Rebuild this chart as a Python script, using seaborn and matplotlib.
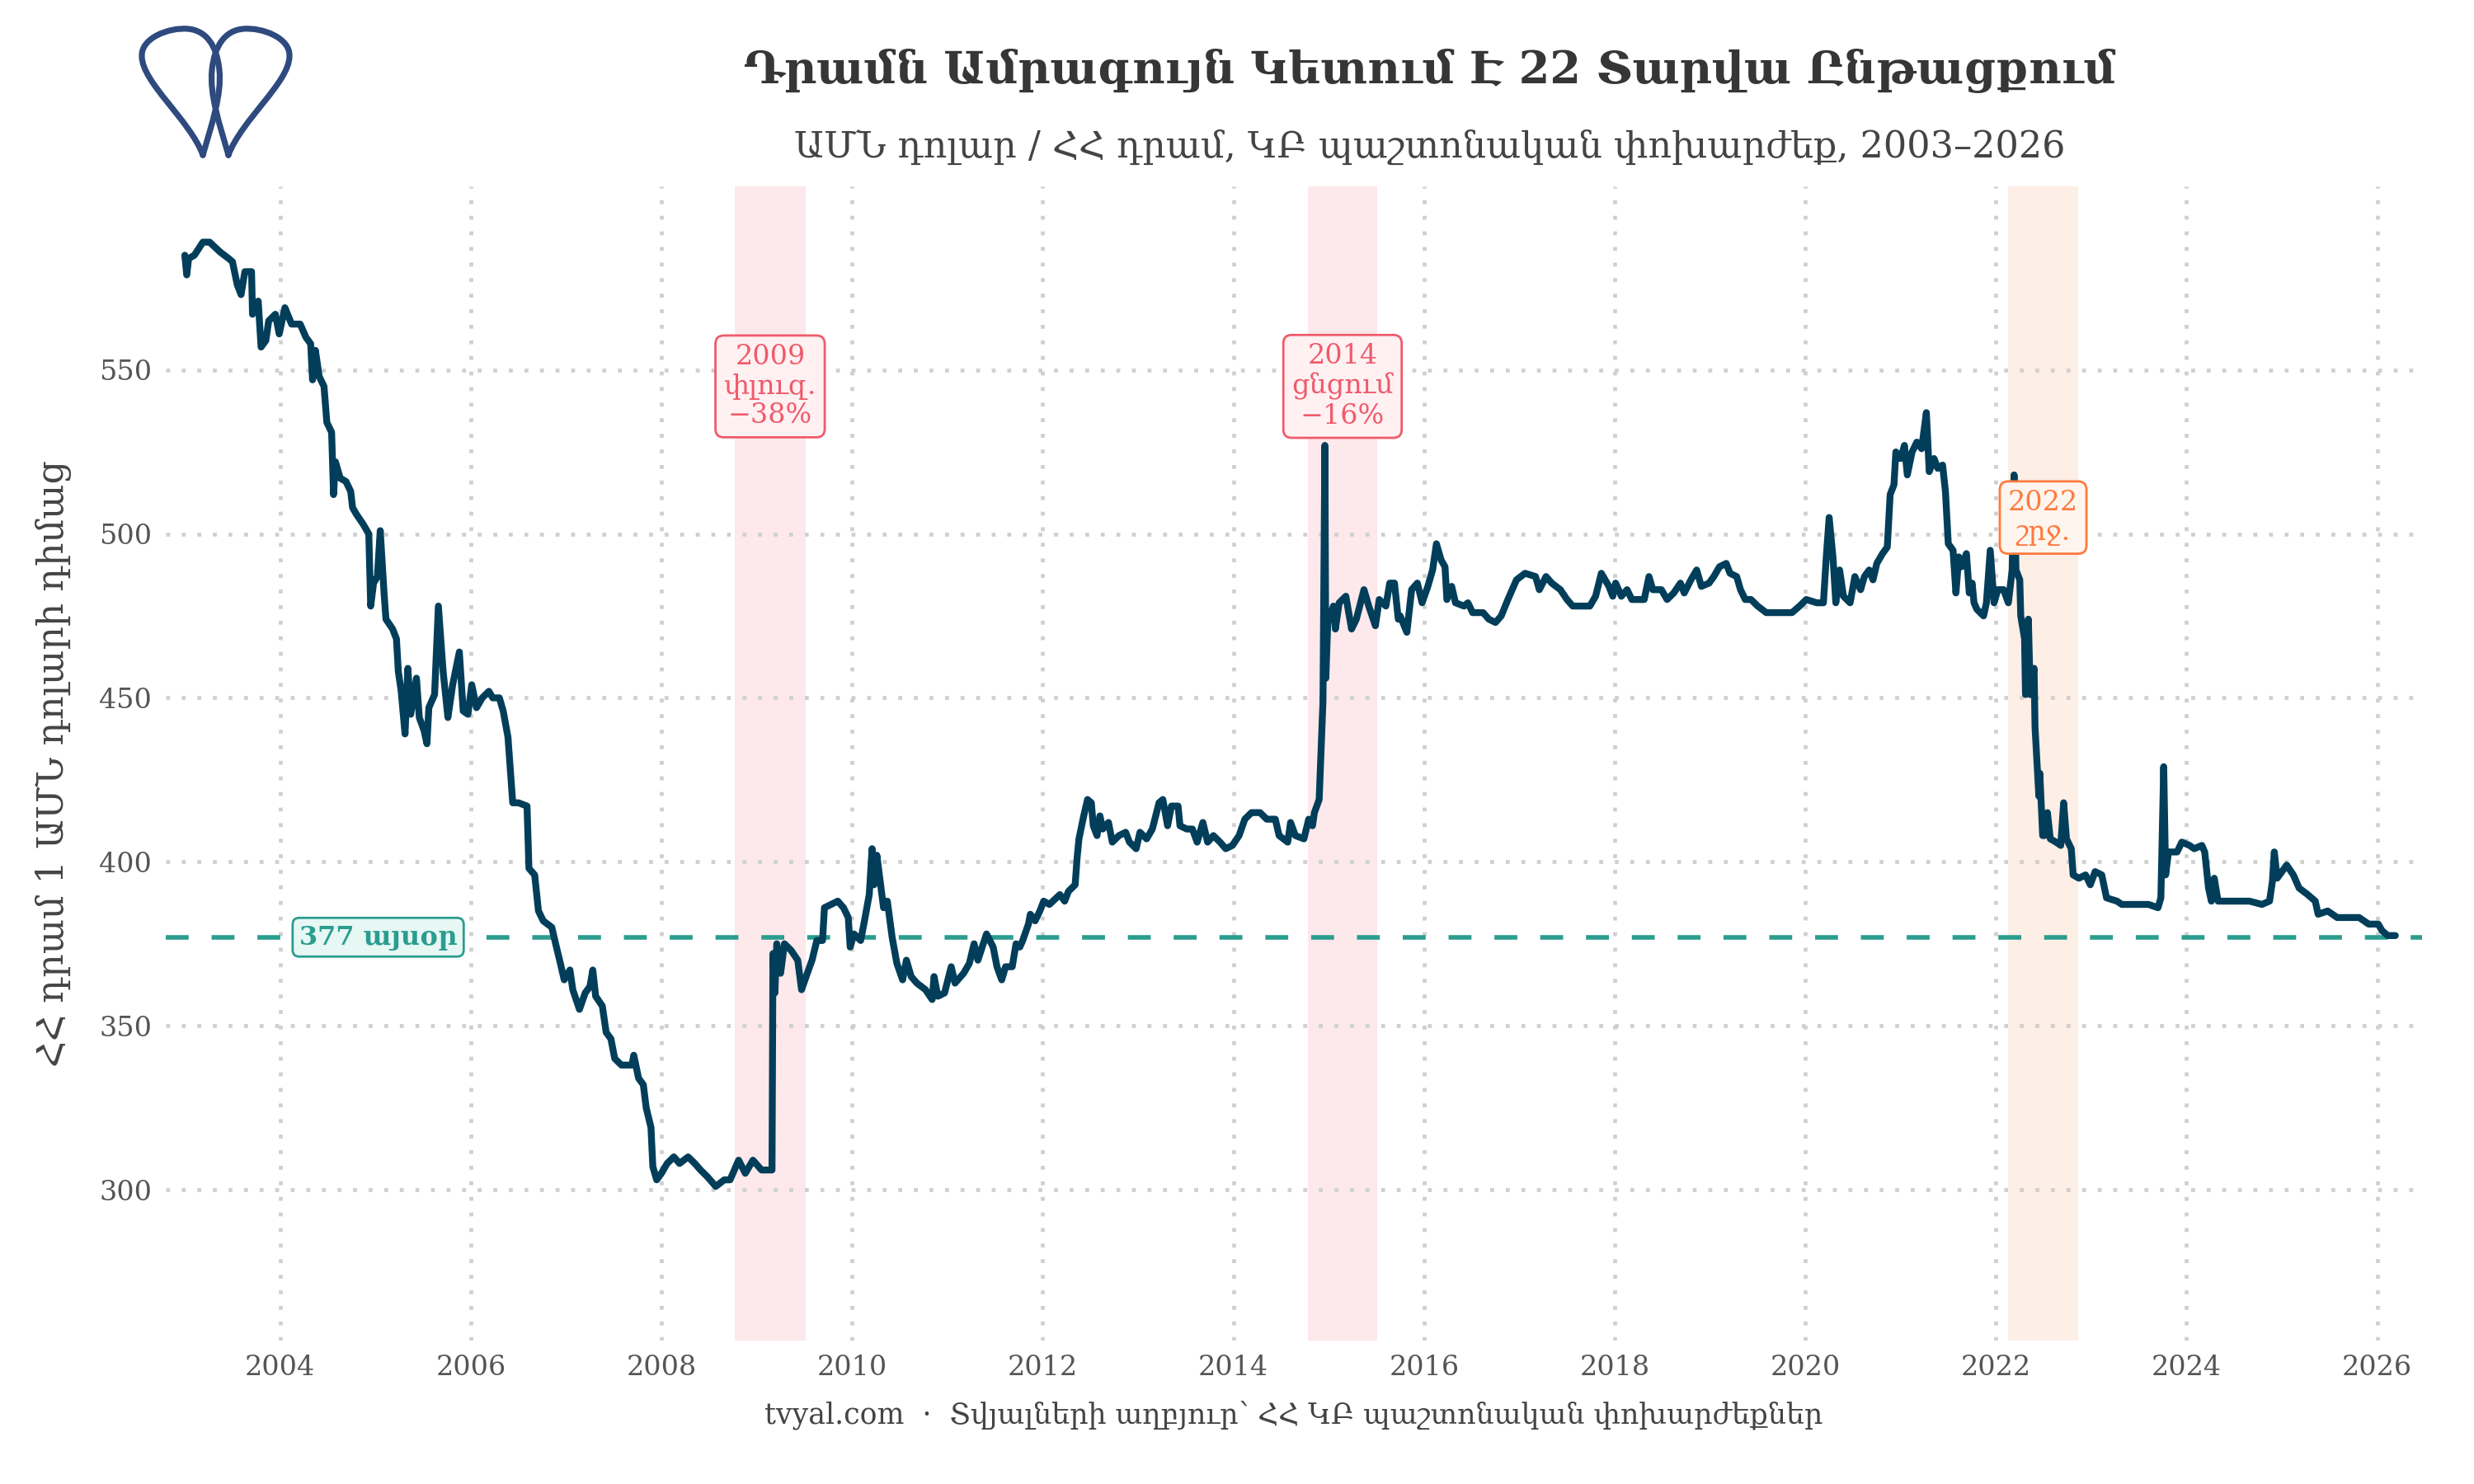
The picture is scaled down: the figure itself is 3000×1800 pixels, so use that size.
import numpy as np
import pandas as pd
import matplotlib
matplotlib.use("Agg")
import matplotlib.pyplot as plt
from matplotlib.path import Path
from matplotlib.patches import PathPatch
import seaborn as sns

# ---------------- data ----------------
years = [
    2003.00, 2003.02, 2003.04, 2003.10, 2003.19, 2003.26, 2003.37, 2003.46, 2003.50, 2003.55,
    2003.59, 2003.63, 2003.70, 2003.71, 2003.77, 2003.80, 2003.85, 2003.88, 2003.95, 2003.99,
    2004.05, 2004.12, 2004.21, 2004.27, 2004.32, 2004.34, 2004.37, 2004.41, 2004.46, 2004.49,
    2004.54, 2004.56, 2004.58, 2004.63, 2004.69, 2004.74, 2004.76, 2004.80, 2004.87, 2004.93,
    2004.95, 2004.98, 2005.02, 2005.05, 2005.09, 2005.11, 2005.18, 2005.22, 2005.24, 2005.27,
    2005.31, 2005.34, 2005.37, 2005.43, 2005.46, 2005.51, 2005.54, 2005.56, 2005.62, 2005.66,
    2005.71, 2005.76, 2005.81, 2005.88, 2005.92, 2005.97, 2006.01, 2006.06, 2006.12, 2006.19,
    2006.23, 2006.30, 2006.34, 2006.39, 2006.42, 2006.44, 2006.50, 2006.59, 2006.61, 2006.67,
    2006.71, 2006.76, 2006.85, 2006.89, 2006.94, 2006.98, 2007.04, 2007.07, 2007.14, 2007.20,
    2007.25, 2007.28, 2007.31, 2007.38, 2007.42, 2007.47, 2007.51, 2007.58, 2007.69, 2007.71,
    2007.76, 2007.81, 2007.84, 2007.89, 2007.91, 2007.95, 2008.00, 2008.06, 2008.13, 2008.19,
    2008.28, 2008.35, 2008.41, 2008.48, 2008.57, 2008.66, 2008.72, 2008.81, 2008.88, 2008.96,
    2009.05, 2009.16, 2009.17, 2009.19, 2009.21, 2009.25, 2009.29, 2009.36, 2009.43, 2009.47,
    2009.53, 2009.58, 2009.63, 2009.69,
    2009.71, 2009.78, 2009.85, 2009.91, 2009.96, 2009.98, 2010.02, 2010.09, 2010.13, 2010.18,
    2010.21, 2010.23, 2010.26, 2010.33, 2010.37, 2010.42, 2010.47, 2010.53, 2010.57, 2010.62,
    2010.68, 2010.77, 2010.84, 2010.86, 2010.90, 2010.97, 2011.04, 2011.08, 2011.17, 2011.23,
    2011.28, 2011.32, 2011.41, 2011.48, 2011.52, 2011.57, 2011.61, 2011.68, 2011.72, 2011.76,
    2011.79, 2011.85, 2011.87, 2011.92, 2011.97, 2012.01, 2012.07, 2012.18, 2012.23, 2012.27,
    2012.34, 2012.36, 2012.38, 2012.43, 2012.47, 2012.51, 2012.53, 2012.57, 2012.60, 2012.63,
    2012.69, 2012.73, 2012.80, 2012.87, 2012.91, 2012.98, 2013.02, 2013.09, 2013.15, 2013.22,
    2013.26, 2013.31, 2013.35, 2013.42, 2013.44, 2013.51, 2013.57, 2013.62, 2013.68, 2013.73,
    2013.79, 2013.86, 2013.92, 2013.99, 2014.06, 2014.12, 2014.19, 2014.28, 2014.35, 2014.44,
    2014.48, 2014.57, 2014.60, 2014.65, 2014.74, 2014.79, 2014.83, 2014.85, 2014.90, 2014.92,
    2014.94, 2014.96, 2014.97, 2014.99, 2015.05, 2015.07, 2015.11, 2015.18, 2015.24, 2015.29,
    2015.37, 2015.42, 2015.49, 2015.53, 2015.60, 2015.64, 2015.69, 2015.73,
    2015.75, 2015.82, 2015.87, 2015.93, 2015.98, 2016.04, 2016.09, 2016.13, 2016.18, 2016.22,
    2016.24, 2016.29, 2016.33, 2016.42, 2016.46, 2016.51, 2016.62, 2016.68, 2016.75, 2016.81,
    2016.88, 2016.97, 2017.06, 2017.17, 2017.21, 2017.28, 2017.34, 2017.43, 2017.50, 2017.56,
    2017.65, 2017.74, 2017.80, 2017.86, 2017.94, 2017.98, 2018.01, 2018.07, 2018.13, 2018.18,
    2018.31, 2018.36, 2018.40, 2018.49, 2018.55, 2018.62, 2018.69, 2018.73, 2018.80, 2018.86,
    2018.91, 2018.99, 2019.04, 2019.10, 2019.17, 2019.21, 2019.28, 2019.32, 2019.37, 2019.43,
    2019.50, 2019.59, 2019.72, 2019.86, 2019.94, 2020.01, 2020.12, 2020.19, 2020.22, 2020.25,
    2020.29, 2020.32, 2020.36, 2020.40, 2020.47, 2020.52, 2020.58, 2020.62, 2020.67, 2020.71,
    2020.75, 2020.81, 2020.86, 2020.89, 2020.93, 2020.95, 2021.00, 2021.04, 2021.07, 2021.12,
    2021.17, 2021.22, 2021.27, 2021.30, 2021.35,
    2021.39, 2021.44, 2021.47, 2021.50, 2021.55, 2021.58, 2021.61, 2021.64, 2021.69, 2021.72,
    2021.75, 2021.77, 2021.80, 2021.87, 2021.90, 2021.94, 2021.98, 2022.02, 2022.08, 2022.13,
    2022.17, 2022.19, 2022.21, 2022.25, 2022.26, 2022.30, 2022.31, 2022.34, 2022.36, 2022.40,
    2022.41, 2022.45, 2022.46, 2022.49, 2022.51, 2022.54, 2022.57, 2022.63, 2022.68, 2022.71,
    2022.74, 2022.79, 2022.81, 2022.87, 2022.94, 2022.99, 2023.04, 2023.11, 2023.16, 2023.27,
    2023.32, 2023.47, 2023.60, 2023.70, 2023.73, 2023.76, 2023.78, 2023.81, 2023.90, 2023.95,
    2024.03, 2024.08, 2024.16, 2024.19, 2024.23, 2024.26, 2024.29, 2024.33, 2024.43, 2024.56,
    2024.66, 2024.79, 2024.87, 2024.90, 2024.92, 2024.95, 2025.00, 2025.05, 2025.12, 2025.18,
    2025.27, 2025.35, 2025.38, 2025.48, 2025.58, 2025.65, 2025.71, 2025.81, 2025.91, 2026.01,
    2026.05, 2026.11, 2026.19,
]
amd_per_usd = [
    585, 579, 584, 585, 589, 589, 586, 584, 583, 576,
    573, 580, 580, 567, 571, 557, 559, 565, 567, 561,
    569, 564, 564, 560, 558, 547, 556, 548, 545, 534,
    531, 512, 522, 517, 516, 513, 508, 506, 503, 500,
    478, 485, 487, 501, 482, 474, 471, 468, 458, 452,
    439, 459, 445, 456, 444, 440, 436, 447, 451, 478,
    458, 444, 454, 464, 446, 445, 454, 447, 450, 452,
    450, 450, 446, 438, 426, 418, 418, 417, 398, 396,
    385, 382, 380, 375, 369, 364, 367, 361, 355, 360,
    362, 367, 359, 356, 348, 346, 340, 338, 338, 341,
    334, 332, 325, 319, 307, 303, 305, 308, 310, 308,
    310, 308, 306, 304, 301, 303, 303, 309, 305, 309,
    306, 306, 372, 360, 375, 366, 375, 373, 370, 361,
    366, 370, 376, 376,
    386, 387, 388, 386, 383, 374, 378, 376, 382, 390,
    404, 393, 402, 386, 388, 377, 369, 364, 370, 365,
    363, 361, 358, 365, 359, 360, 368, 363, 366, 369,
    375, 370, 378, 374, 368, 364, 368, 368, 375, 374,
    376, 381, 384, 382, 385, 388, 387, 390, 388, 391,
    393, 401, 407, 414, 419, 418, 411, 408, 414, 410,
    412, 406, 408, 409, 406, 404, 409, 407, 410, 418,
    419, 411, 417, 417, 411, 410, 410, 406, 412, 406,
    408, 406, 404, 405, 408, 413, 415, 415, 413, 413,
    408, 406, 412, 408, 407, 413, 411, 415, 419, 434,
    449, 527, 456, 473, 478, 471, 479, 481, 471, 474,
    483, 478, 472, 480, 478, 485, 485, 474,
    475, 470, 483, 485, 479, 484, 489, 497, 492, 490,
    480, 484, 479, 478, 479, 476, 476, 474, 473, 475,
    480, 486, 488, 487, 483, 487, 485, 483, 480, 478,
    478, 478, 481, 488, 484, 481, 485, 481, 483, 480,
    480, 487, 483, 483, 480, 482, 485, 482, 486, 489,
    484, 485, 487, 490, 491, 488, 487, 483, 480, 480,
    478, 476, 476, 476, 478, 480, 479, 479, 493, 505,
    493, 479, 489, 481, 479, 487, 483, 487, 489, 486,
    491, 494, 496, 512, 515, 525, 523, 527, 518, 525,
    528, 526, 537, 519, 523,
    520, 521, 513, 497, 495, 482, 493, 490, 494, 482,
    485, 479, 477, 475, 479, 495, 479, 483, 483, 479,
    489, 518, 489, 486, 475, 468, 451, 474, 451, 459,
    441, 420, 427, 408, 408, 415, 407, 406, 405, 418,
    407, 404, 396, 395, 396, 393, 397, 396, 389, 388,
    387, 387, 387, 386, 389, 429, 396, 403, 403, 406,
    405, 404, 405, 403, 392, 388, 395, 388, 388, 388,
    388, 387, 388, 394, 403, 395, 397, 399, 396, 392,
    390, 388, 384, 385, 383, 383, 383, 383, 381, 381,
    379, 377.5, 377.5,
]
today_value = 377
today_label = "377 այսօր"

episode_starts = [2008.77, 2014.78, 2022.13]
episode_ends = [2009.51, 2015.51, 2022.86]
episode_labels = ["2009\nփլուզ.\n−38%", "2014\nցնցում\n−16%", "2022\nշրջ."]
episode_label_y = [545, 545, 505]

x_ticks = list(range(2004, 2027, 2))
y_ticks = [300, 350, 400, 450, 500, 550]

title = "Դրամն Ամրագույն Կետում Է 22 Տարվա Ընթացքում"
subtitle = "ԱՄՆ դոլար / ՀՀ դրամ, ԿԲ պաշտոնական փոխարժեք, 2003–2026"
y_label = "ՀՀ դրամ 1 ԱՄՆ դոլարի դիմաց"
caption = "tvyal.com  ·  Տվյալների աղբյուր՝ ՀՀ ԿԲ պաշտոնական փոխարժեքներ"

# ---------------- styling ----------------
sns.set_theme(style="white")
plt.rcParams["font.family"] = ["DejaVu Serif", "DejaVu Sans"]

LINE = "#023e5a"
TEAL = "#2a9d8f"
RED = "#ef5b6b"
ORANGE = "#ff7a3d"
SPAN_COLORS = ["#fde8eb", "#fde8eb", "#fdeee6"]
LABEL_COLORS = [RED, RED, ORANGE]
LABEL_FACES = ["#fff0f2", "#fff0f2", "#fff5ef"]
TXT = "#555555"

fig = plt.figure(figsize=(15, 9), dpi=200)
ax = fig.add_axes([0.067, 0.0967, 0.912, 0.7777])

df = pd.DataFrame({"year": years, "rate": amd_per_usd})

for s, e, c in zip(episode_starts, episode_ends, SPAN_COLORS):
    ax.axvspan(s, e, color=c, lw=0, zorder=0)

ax.axhline(today_value, color=TEAL, lw=2.0, ls=(0, (5, 5)), zorder=2)

sns.lineplot(data=df, x="year", y="rate", ax=ax, color=LINE, lw=3.0,
             estimator=None, sort=False, zorder=3)

ax.set_xlim(2002.8, 2026.47)
ax.set_ylim(254, 606)
ax.set_xticks(x_ticks)
ax.set_xticklabels([str(t) for t in x_ticks])
ax.set_yticks(y_ticks)
ax.grid(True, color="#cfcfcf", lw=1.7, ls=(0, (1, 3)))
ax.set_axisbelow(True)
for sp in ax.spines.values():
    sp.set_visible(False)
ax.tick_params(axis="both", length=0, labelsize=12, labelcolor=TXT, pad=6)
ax.set_xlabel("")
ax.set_ylabel(y_label, fontsize=16, color="#444444", labelpad=12)

# episode labels
for s, e, lab, yv, c, fc in zip(episode_starts, episode_ends, episode_labels,
                                episode_label_y, LABEL_COLORS, LABEL_FACES):
    ax.text((s + e) / 2, yv, lab, ha="center", va="center", fontsize=12,
            color=c, linespacing=1.15, zorder=5,
            bbox=dict(boxstyle="round,pad=0.3,rounding_size=0.3", fc=fc, ec=c, lw=1.0))

# today label
ax.text(2004.2, today_value, today_label, ha="left", va="center", fontsize=11.5,
        fontweight="bold", color=TEAL, zorder=5,
        bbox=dict(boxstyle="round,pad=0.25,rounding_size=0.25", fc="#e6f7f4", ec=TEAL, lw=1.0))

# titles / caption
fig.text(0.578, 0.952, title, ha="center", va="center", fontsize=19.5,
         fontweight="bold", color="#363636")
fig.text(0.578, 0.901, subtitle, ha="center", va="center", fontsize=16, color="#444444")
fig.text(0.523, 0.046, caption, ha="center", va="center", fontsize=12.5, color="#444444")

# logo (decorative), drawn in figure pixel coordinates
lax = fig.add_axes([0, 0, 1, 1], zorder=10)
lax.set_xlim(0, 3000)
lax.set_ylim(1800, 0)
lax.axis("off")
lax.patch.set_alpha(0)
left_loop = [(246, 188), (230, 145), (172, 100), (172, 68),
             (171, 46), (205, 33), (228, 35),
             (250, 37), (263, 55), (266, 85),
             (269, 115), (257, 150), (246, 188)]
codes = [Path.MOVETO] + [Path.CURVE4] * 12
right_loop = [(523 - x, y) for x, y in left_loop]
for pts in (left_loop, right_loop):
    lax.add_patch(PathPatch(Path(pts, codes), fc="none", ec="#2e4a7e", lw=2.6,
                            capstyle="round", joinstyle="round"))

fig.savefig("out.png", dpi=200)
